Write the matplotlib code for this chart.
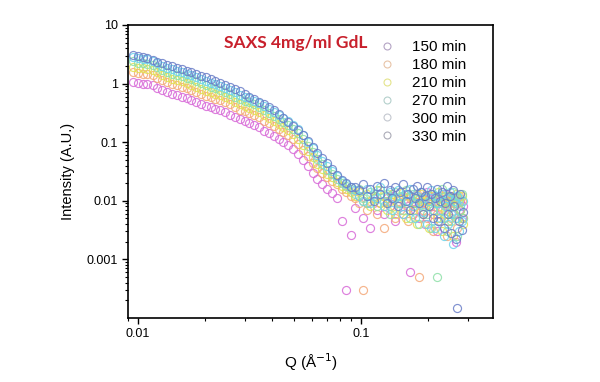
import numpy as np
import matplotlib
matplotlib.use('Agg')
import matplotlib.pyplot as plt
from matplotlib.lines import Line2D
from matplotlib.ticker import NullFormatter

plt.rcParams['font.family'] = ['Liberation Sans', 'DejaVu Sans']

# scattering vector Q (1/A), shared by all runs
q = [0.0095, 0.0100, 0.0105, 0.0110, 0.0116, 0.0122, 0.0128, 0.0135, 0.0142, 0.0149,
     0.0157, 0.0165, 0.0173, 0.0182, 0.0191, 0.0201, 0.0211, 0.0222, 0.0233, 0.0245,
     0.0258, 0.0271, 0.0285, 0.0300, 0.0315, 0.0331, 0.0348, 0.0366, 0.0385, 0.0405,
     0.0426, 0.0448, 0.0471, 0.0495, 0.0520, 0.0547, 0.0575, 0.0605, 0.0636, 0.0668,
     0.0702, 0.0738, 0.0776, 0.0816, 0.0858, 0.0902,
     0.094, 0.098, 0.102, 0.106, 0.110, 0.114, 0.118, 0.122, 0.126, 0.130,
     0.134, 0.138, 0.142, 0.146, 0.150, 0.154, 0.158, 0.162, 0.166, 0.170,
     0.174, 0.178, 0.182, 0.186, 0.190, 0.194, 0.198, 0.202, 0.206, 0.210,
     0.214, 0.218, 0.222, 0.226, 0.230, 0.234, 0.238, 0.242, 0.246, 0.250,
     0.254, 0.258, 0.262, 0.266, 0.270, 0.274, 0.278, 0.282, 0.286]

i_150 = [1.07, 1.02, 1.00, 0.98, 0.93, 0.85, 0.77, 0.71, 0.66, 0.63,
         0.60, 0.56, 0.525, 0.49, 0.45, 0.417, 0.394, 0.37, 0.35, 0.324,
         0.295, 0.27, 0.245, 0.229, 0.214, 0.195, 0.18, 0.158, 0.141, 0.126,
         0.112, 0.100, 0.089, 0.076, 0.063, 0.050, 0.039, 0.030, 0.0234, 0.019,
         0.0158, 0.0138, 0.0112, 0.0045, 0.0003, 0.0026,
         0.0075, 0.012, 0.005, 0.009, 0.0035, 0.011, 0.007, 0.013, 0.006, 0.010,
         0.008, 0.012, 0.0045, 0.009, 0.011, 0.006, 0.013, 0.008, 0.0006, 0.010,
         0.007, 0.012, 0.005, 0.009, 0.011, 0.004, 0.014, 0.008, 0.010, 0.006,
         0.012, 0.003, 0.009, 0.011, 0.007, 0.005, 0.013, 0.008, 0.0045, 0.010,
         0.012, 0.006, 0.009, 0.002, 0.011, 0.007, 0.010, 0.005, 0.008]

i_180 = [1.58, 1.51, 1.48, 1.45, 1.38, 1.26, 1.14, 1.05, 0.98, 0.93,
         0.89, 0.83, 0.78, 0.73, 0.67, 0.62, 0.58, 0.55, 0.52, 0.48,
         0.44, 0.40, 0.36, 0.34, 0.32, 0.29, 0.27, 0.234, 0.209, 0.186,
         0.166, 0.148, 0.132, 0.112, 0.093, 0.074, 0.058, 0.045, 0.036, 0.030,
         0.025, 0.022, 0.019, 0.016, 0.014, 0.012,
         0.011, 0.009, 0.0003, 0.007, 0.010, 0.012, 0.006, 0.009, 0.0035, 0.011,
         0.008, 0.013, 0.005, 0.010, 0.007, 0.012, 0.009, 0.0045, 0.011, 0.006,
         0.008, 0.013, 0.0005, 0.010, 0.007, 0.009, 0.005, 0.012, 0.008, 0.003,
         0.010, 0.006, 0.011, 0.0045, 0.009, 0.012, 0.007, 0.0025, 0.010, 0.008,
         0.005, 0.011, 0.006, 0.009, 0.0035, 0.012, 0.007, 0.010, 0.005]

i_210 = [1.95, 1.86, 1.82, 1.78, 1.69, 1.55, 1.40, 1.29, 1.20, 1.15,
         1.09, 1.02, 0.96, 0.89, 0.82, 0.76, 0.72, 0.67, 0.64, 0.59,
         0.54, 0.49, 0.45, 0.42, 0.39, 0.355, 0.33, 0.29, 0.257, 0.229,
         0.204, 0.182, 0.162, 0.138, 0.115, 0.091, 0.071, 0.055, 0.043, 0.035,
         0.029, 0.025, 0.021, 0.018, 0.016, 0.014,
         0.012, 0.014, 0.010, 0.013, 0.008, 0.011, 0.015, 0.009, 0.012, 0.007,
         0.010, 0.013, 0.006, 0.011, 0.009, 0.014, 0.005, 0.010, 0.012, 0.007,
         0.009, 0.004, 0.011, 0.013, 0.006, 0.008, 0.010, 0.0035, 0.012, 0.007,
         0.009, 0.005, 0.014, 0.008, 0.003, 0.010, 0.006, 0.012, 0.0045, 0.009,
         0.011, 0.0025, 0.008, 0.013, 0.005, 0.010, 0.007, 0.012, 0.004]

i_270 = [2.40, 2.28, 2.24, 2.20, 2.08, 1.90, 1.72, 1.59, 1.48, 1.41,
         1.34, 1.25, 1.18, 1.10, 1.01, 0.93, 0.88, 0.83, 0.78, 0.73,
         0.66, 0.60, 0.55, 0.51, 0.48, 0.44, 0.40, 0.354, 0.316, 0.282,
         0.251, 0.224, 0.199, 0.170, 0.141, 0.112, 0.087, 0.067, 0.052, 0.042,
         0.034, 0.029, 0.024, 0.020, 0.018, 0.016,
         0.013, 0.016, 0.011, 0.009, 0.014, 0.012, 0.008, 0.015, 0.010, 0.013,
         0.006, 0.011, 0.014, 0.009, 0.012, 0.007, 0.015, 0.010, 0.005, 0.013,
         0.009, 0.011, 0.004, 0.014, 0.008, 0.012, 0.006, 0.010, 0.0035, 0.013,
         0.009, 0.0005, 0.011, 0.007, 0.016, 0.005, 0.010, 0.003, 0.012, 0.008,
         0.0045, 0.014, 0.006, 0.009, 0.0025, 0.011, 0.007, 0.013, 0.005]

i_300 = [2.81, 2.68, 2.63, 2.58, 2.45, 2.24, 2.03, 1.87, 1.74, 1.66,
         1.58, 1.47, 1.38, 1.29, 1.18, 1.10, 1.04, 0.97, 0.92, 0.85,
         0.78, 0.71, 0.64, 0.60, 0.56, 0.51, 0.47, 0.415, 0.371, 0.331,
         0.295, 0.263, 0.234, 0.200, 0.166, 0.131, 0.102, 0.079, 0.061, 0.048,
         0.039, 0.032, 0.026, 0.022, 0.019, 0.017,
         0.015, 0.012, 0.010, 0.016, 0.009, 0.013, 0.011, 0.017, 0.008, 0.012,
         0.014, 0.007, 0.011, 0.015, 0.009, 0.006, 0.013, 0.010, 0.016, 0.008,
         0.005, 0.012, 0.009, 0.014, 0.0065, 0.011, 0.004, 0.010, 0.015, 0.007,
         0.0035, 0.012, 0.009, 0.005, 0.013, 0.0025, 0.008, 0.011, 0.004, 0.014,
         0.006, 0.0018, 0.010, 0.005, 0.012, 0.003, 0.008, 0.0045, 0.010]

i_330 = [3.09, 2.95, 2.88, 2.72, 2.54, 2.38, 2.24, 2.10, 1.97, 1.85,
         1.74, 1.64, 1.55, 1.45, 1.37, 1.29, 1.20, 1.10, 1.02, 0.94,
         0.87, 0.80, 0.74, 0.665, 0.60, 0.545, 0.49, 0.44, 0.40, 0.358,
         0.303, 0.258, 0.219, 0.187, 0.160, 0.131, 0.104, 0.083, 0.066, 0.053,
         0.0435, 0.035, 0.028, 0.0228, 0.020, 0.0174,
         0.017, 0.015, 0.019, 0.012, 0.016, 0.010, 0.018, 0.013, 0.020, 0.009,
         0.015, 0.011, 0.017, 0.008, 0.014, 0.019, 0.010, 0.013, 0.007, 0.016,
         0.011, 0.018, 0.009, 0.014, 0.006, 0.012, 0.017, 0.008, 0.013, 0.005,
         0.011, 0.016, 0.0045, 0.010, 0.014, 0.0035, 0.009, 0.018, 0.006, 0.012,
         0.0028, 0.015, 0.008, 0.0022, 0.00015, 0.0045, 0.013, 0.0032, 0.0065]

labels = ['150 min', '180 min', '210 min', '270 min', '300 min', '330 min']
series = [i_150, i_180, i_210, i_270, i_300, i_330]
colors = ['#d86ad8', '#f4a878', '#e4e050', '#8ee0a8', '#6cd4ec', '#6a7ec8']
legend_colors = ['#b4a4c4', '#e8c4a8', '#e4e48c', '#b4d0cc', '#c4c8d0', '#acacb8']

fig = plt.figure(figsize=(6.0, 3.82), dpi=100)
ax = fig.add_axes([0.2133, 0.1675, 0.6084, 0.7671])

for vals, c in zip(series, colors):
    ax.plot(q, vals, linestyle='none', marker='o', markersize=5.8,
            markerfacecolor='none', markeredgecolor=c, markeredgewidth=0.85, alpha=0.85)

ax.set_xscale('log')
ax.set_yscale('log')
ax.set_xlim(0.009, 0.39)
ax.set_ylim(1.0e-4, 10)

ax.set_xticks([0.01, 0.1])
ax.set_xticklabels(['0.01', '0.1'])
ax.set_yticks([0.001, 0.01, 0.1, 1, 10])
ax.set_yticklabels(['0.001', '0.01', '0.1', '1', '10'])
ax.xaxis.set_minor_formatter(NullFormatter())
ax.yaxis.set_minor_formatter(NullFormatter())
ax.tick_params(which='major', length=4, width=1.0, labelsize=9, direction='out')
ax.tick_params(which='minor', length=2.5, width=0.8, direction='out')
for s in ax.spines.values():
    s.set_linewidth(1.2)

ax.set_xlabel('Q (Å$^{-1}$)', fontsize=11, labelpad=8)
ax.set_ylabel('Intensity (A.U.)', fontsize=10.5, labelpad=8)

ax.text(0.655, 0.939, 'SAXS 4mg/ml GdL', transform=ax.transAxes, ha='right', va='center',
        fontsize=12.5, fontweight='bold', color='#c8202c', family=['Lato', 'DejaVu Sans'])

handles = [Line2D([], [], linestyle='none', marker='o', markersize=5, markerfacecolor='none',
                  markeredgecolor=c, markeredgewidth=0.8) for c in legend_colors]
ax.legend(handles, labels, loc='upper left', bbox_to_anchor=(0.668, 0.975), frameon=False,
          fontsize=11, handlelength=1.0, handletextpad=1.1, labelspacing=0.26, borderpad=0)

fig.savefig('out.png', dpi=100)
